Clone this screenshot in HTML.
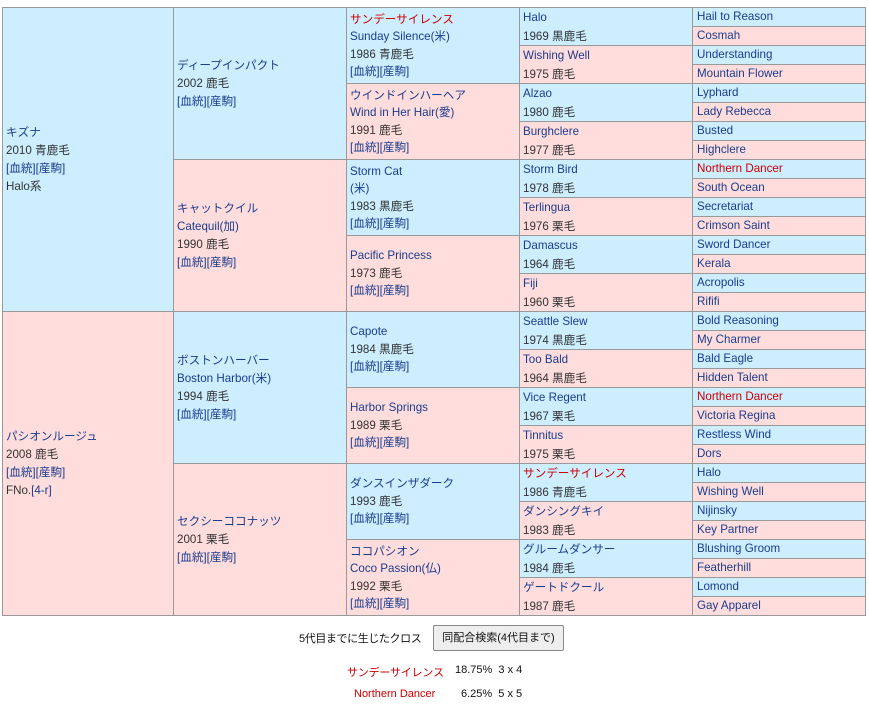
<!DOCTYPE html>
<html><head><meta charset="utf-8"><style>
body{margin:0;background:#fff;width:869px;height:708px;position:relative;overflow:hidden;font-family:"Liberation Sans","Noto Sans CJK JP",sans-serif;font-size:11.6px;color:#333}
.c{position:absolute;box-sizing:border-box;border:1px solid #999;display:flex;flex-direction:column;justify-content:center;padding-left:3px;line-height:18px;white-space:nowrap;overflow:hidden}
.g1{left:2px;width:172px;height:305px}
.g2{left:173px;width:174px;height:153px}
.g3{left:346px;width:174px;height:77px;line-height:17.5px}
.g4{left:519px;width:174px;height:39px;line-height:19px}
.g5{left:692px;width:174px;height:20px;padding-left:4px}
.b{background:#cceeff}.p{background:#ffdddd}
a,.l{color:#1a3c8c;text-decoration:none}
.r{color:#cc0000}
.t{position:absolute;white-space:nowrap;font-size:11px}
.btn{position:absolute;left:433px;top:625px;width:131px;height:26px;box-sizing:border-box;border:1px solid #888;border-radius:2px;background:#eee;font-size:11px;line-height:24px;text-align:center;color:#111}
</style></head><body>
<div class="c g1 b" style="top:7px"><span class="l">キズナ</span><span>2010 青鹿毛</span><span class="l">[血統][産駒]</span><span>Halo系</span></div>
<div class="c g1 p" style="top:311px"><span class="l">パシオンルージュ</span><span>2008 鹿毛</span><span class="l">[血統][産駒]</span><span>FNo.<span class="l">[4-r]</span></span></div>

<div class="c g2 b" style="top:7px"><span class="l">ディープインパクト</span><span>2002 鹿毛</span><span class="l">[血統][産駒]</span></div>
<div class="c g2 p" style="top:159px"><span class="l">キャットクイル</span><span class="l">Catequil(加)</span><span>1990 鹿毛</span><span class="l">[血統][産駒]</span></div>
<div class="c g2 b" style="top:311px"><span class="l">ボストンハーバー</span><span class="l">Boston Harbor(米)</span><span>1994 鹿毛</span><span class="l">[血統][産駒]</span></div>
<div class="c g2 p" style="top:463px"><span class="l">セクシーココナッツ</span><span>2001 栗毛</span><span class="l">[血統][産駒]</span></div>

<div class="c g3 b" style="top:7px"><span class="r">サンデーサイレンス</span><span class="l">Sunday Silence(米)</span><span>1986 青鹿毛</span><span class="l">[血統][産駒]</span></div>
<div class="c g3 p" style="top:83px"><span class="l">ウインドインハーヘア</span><span class="l">Wind in Her Hair(愛)</span><span>1991 鹿毛</span><span class="l">[血統][産駒]</span></div>
<div class="c g3 b" style="top:159px"><span class="l">Storm Cat</span><span class="l">(米)</span><span>1983 黒鹿毛</span><span class="l">[血統][産駒]</span></div>
<div class="c g3 p" style="top:235px"><span class="l">Pacific Princess</span><span>1973 鹿毛</span><span class="l">[血統][産駒]</span></div>
<div class="c g3 b" style="top:311px"><span class="l">Capote</span><span>1984 黒鹿毛</span><span class="l">[血統][産駒]</span></div>
<div class="c g3 p" style="top:387px"><span class="l">Harbor Springs</span><span>1989 栗毛</span><span class="l">[血統][産駒]</span></div>
<div class="c g3 b" style="top:463px"><span class="l">ダンスインザダーク</span><span>1993 鹿毛</span><span class="l">[血統][産駒]</span></div>
<div class="c g3 p" style="top:539px"><span class="l">ココパシオン</span><span class="l">Coco Passion(仏)</span><span>1992 栗毛</span><span class="l">[血統][産駒]</span></div>

<div class="c g4 b" style="top:7px"><span class="l">Halo</span><span>1969 黒鹿毛</span></div>
<div class="c g4 p" style="top:45px"><span class="l">Wishing Well</span><span>1975 鹿毛</span></div>
<div class="c g4 b" style="top:83px"><span class="l">Alzao</span><span>1980 鹿毛</span></div>
<div class="c g4 p" style="top:121px"><span class="l">Burghclere</span><span>1977 鹿毛</span></div>
<div class="c g4 b" style="top:159px"><span class="l">Storm Bird</span><span>1978 鹿毛</span></div>
<div class="c g4 p" style="top:197px"><span class="l">Terlingua</span><span>1976 栗毛</span></div>
<div class="c g4 b" style="top:235px"><span class="l">Damascus</span><span>1964 鹿毛</span></div>
<div class="c g4 p" style="top:273px"><span class="l">Fiji</span><span>1960 栗毛</span></div>
<div class="c g4 b" style="top:311px"><span class="l">Seattle Slew</span><span>1974 黒鹿毛</span></div>
<div class="c g4 p" style="top:349px"><span class="l">Too Bald</span><span>1964 黒鹿毛</span></div>
<div class="c g4 b" style="top:387px"><span class="l">Vice Regent</span><span>1967 栗毛</span></div>
<div class="c g4 p" style="top:425px"><span class="l">Tinnitus</span><span>1975 栗毛</span></div>
<div class="c g4 b" style="top:463px"><span class="r">サンデーサイレンス</span><span>1986 青鹿毛</span></div>
<div class="c g4 p" style="top:501px"><span class="l">ダンシングキイ</span><span>1983 鹿毛</span></div>
<div class="c g4 b" style="top:539px"><span class="l">グルームダンサー</span><span>1984 鹿毛</span></div>
<div class="c g4 p" style="top:577px"><span class="l">ゲートドクール</span><span>1987 鹿毛</span></div>

<div class="c g5 b" style="top:7px"><span class="l">Hail to Reason</span></div>
<div class="c g5 p" style="top:26px"><span class="l">Cosmah</span></div>
<div class="c g5 b" style="top:45px"><span class="l">Understanding</span></div>
<div class="c g5 p" style="top:64px"><span class="l">Mountain Flower</span></div>
<div class="c g5 b" style="top:83px"><span class="l">Lyphard</span></div>
<div class="c g5 p" style="top:102px"><span class="l">Lady Rebecca</span></div>
<div class="c g5 b" style="top:121px"><span class="l">Busted</span></div>
<div class="c g5 p" style="top:140px"><span class="l">Highclere</span></div>
<div class="c g5 b" style="top:159px"><span class="r">Northern Dancer</span></div>
<div class="c g5 p" style="top:178px"><span class="l">South Ocean</span></div>
<div class="c g5 b" style="top:197px"><span class="l">Secretariat</span></div>
<div class="c g5 p" style="top:216px"><span class="l">Crimson Saint</span></div>
<div class="c g5 b" style="top:235px"><span class="l">Sword Dancer</span></div>
<div class="c g5 p" style="top:254px"><span class="l">Kerala</span></div>
<div class="c g5 b" style="top:273px"><span class="l">Acropolis</span></div>
<div class="c g5 p" style="top:292px"><span class="l">Rififi</span></div>
<div class="c g5 b" style="top:311px"><span class="l">Bold Reasoning</span></div>
<div class="c g5 p" style="top:330px"><span class="l">My Charmer</span></div>
<div class="c g5 b" style="top:349px"><span class="l">Bald Eagle</span></div>
<div class="c g5 p" style="top:368px"><span class="l">Hidden Talent</span></div>
<div class="c g5 b" style="top:387px"><span class="r">Northern Dancer</span></div>
<div class="c g5 p" style="top:406px"><span class="l">Victoria Regina</span></div>
<div class="c g5 b" style="top:425px"><span class="l">Restless Wind</span></div>
<div class="c g5 p" style="top:444px"><span class="l">Dors</span></div>
<div class="c g5 b" style="top:463px"><span class="l">Halo</span></div>
<div class="c g5 p" style="top:482px"><span class="l">Wishing Well</span></div>
<div class="c g5 b" style="top:501px"><span class="l">Nijinsky</span></div>
<div class="c g5 p" style="top:520px"><span class="l">Key Partner</span></div>
<div class="c g5 b" style="top:539px"><span class="l">Blushing Groom</span></div>
<div class="c g5 p" style="top:558px"><span class="l">Featherhill</span></div>
<div class="c g5 b" style="top:577px"><span class="l">Lomond</span></div>
<div class="c g5 p" style="top:596px"><span class="l">Gay Apparel</span></div>

<div class="t" style="left:299px;top:630px;color:#111;letter-spacing:-0.4px">5代目までに生じたクロス</div>
<div class="btn">同配合検索(4代目まで)</div>
<div class="t r" style="left:347px;top:664px;letter-spacing:-0.2px">サンデーサイレンス</div>
<div class="t" style="left:455px;top:664px;color:#111">18.75% &nbsp;3 x 4</div>
<div class="t r" style="left:354px;top:688px">Northern Dancer</div>
<div class="t" style="left:461px;top:688px;color:#111">6.25% &nbsp;5 x 5</div>
</body></html>
